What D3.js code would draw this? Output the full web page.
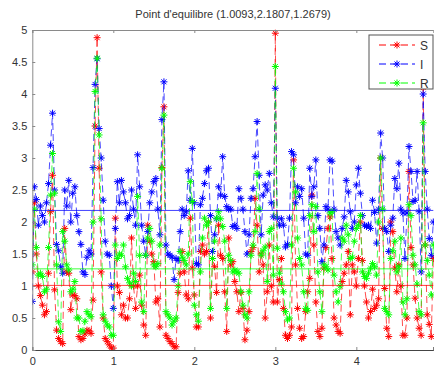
<!DOCTYPE html>
<html><head><meta charset="utf-8">
<script src="https://cdn.jsdelivr.net/npm/d3@7"></script>
<style>body{margin:0;background:#fff}svg{display:block}text{font-family:"Liberation Sans",Arial,sans-serif}</style>
</head><body>
<script>
const title = "Point d'equilibre (1.0093,2.1807,1.2679)";
const tStep = 0.025;
const equilibrium = [1.0093, 2.1807, 1.2679];
const xTicks = [0, 1, 2, 3, 4];
const yTicks = [0, 0.5, 1, 1.5, 2, 2.5, 3, 3.5, 4, 4.5, 5];
const seriesNames = ["S", "I", "R"];
const seriesColors = ["#ff0000", "#0000ff", "#00ff00"];

const S = [1.22,2.3,1.5,1.0,0.85,0.7,0.55,0.6,1.2,2.16,2.73,0.94,0.31,0.18,0.13,0.1,1.9,1.22,1.2,0.63,
0.86,0.85,0.8,0.21,0.16,0.18,0.25,0.31,0.3,0.26,0.78,3.5,4.88,2.84,1.22,0.5,0.18,0.13,0.08,0.03,
0.03,2.06,1.0,0.9,0.55,0.7,0.5,0.5,0.8,1.75,1.0,0.65,1.0,1.17,0.7,0.39,0.23,1.95,1.7,1.5,
1.38,0.75,0.8,0.36,2.85,3.8,0.23,0.18,0.13,0.1,0.05,0.05,0.9,1.2,1.54,1.22,0.86,0.8,2.06,1.28,
0.86,0.36,0.36,1.54,1.64,1.5,1.54,2.0,0.5,1.43,1.3,0.9,1.95,1.48,1.43,0.91,0.29,1.75,1.33,1.38,
1.07,0.91,0.6,0.9,0.65,0.16,0.31,0.6,1.54,1.6,2.37,1.95,1.22,1.5,1.33,0.5,0.91,1.64,1.0,0.75,
4.95,0.75,1.1,1.43,0.65,0.23,0.18,0.23,0.36,2.97,1.33,0.65,0.34,0.18,0.21,0.6,0.91,1.12,2.42,1.64,
0.75,0.29,0.21,0.34,1.28,1.6,1.9,2.08,1.43,0.5,0.39,0.29,0.26,1.07,1.2,1.33,1.54,0.55,1.33,1.22,
1.0,1.43,2.0,1.4,1.0,0.75,0.5,0.6,0.95,0.65,0.7,0.8,3.0,1.9,0.96,0.34,0.21,2.0,1.85,1.28,
0.91,1.33,1.0,0.23,0.23,0.5,2.79,1.6,1.33,0.81,0.5,0.34,0.23,4.1,1.64,0.55,0.4,0.21,1.43];

const I = [0.76,2.55,2.35,1.95,2.25,2.1,2.0,2.3,2.6,3.2,3.7,2.5,1.65,1.55,1.3,1.2,2.5,2.25,2.65,2.0,
2.45,2.55,2.1,1.85,1.65,1.22,1.18,1.45,1.55,1.5,2.85,4.15,4.55,3.46,3.0,2.34,1.7,1.5,1.48,1.0,
0.65,1.9,2.63,2.3,2.65,2.47,2.3,2.05,2.1,2.5,2.2,1.95,3.05,2.55,1.95,1.7,1.48,1.85,2.3,2.47,
2.63,2.68,2.2,1.8,3.6,4.19,1.64,1.5,1.48,1.45,1.1,1.43,1.4,1.85,2.2,2.1,2.16,2.8,2.34,3.15,
2.3,1.35,1.33,2.27,2.37,2.6,2.8,2.84,2.1,1.54,1.8,2.05,2.55,2.42,3.02,2.4,2.24,2.2,2.2,1.93,
1.95,1.9,2.52,2.37,2.2,1.85,1.5,1.8,2.37,2.52,3.02,3.57,2.73,1.8,2.42,2.58,2.5,2.76,2.3,2.08,
4.09,2.06,1.95,2.05,1.95,1.61,1.65,2.06,3.1,3.05,2.3,2.55,2.4,2.52,2.06,1.5,1.48,2.84,2.4,2.55,
2.97,2.1,1.9,1.38,1.64,2.24,2.2,2.97,2.95,2.2,1.85,1.75,1.64,1.9,2.08,2.65,2.47,2.16,1.9,2.0,
2.58,2.84,2.45,2.1,1.95,1.93,1.95,1.9,2.34,2.15,1.67,2.2,3.39,3.0,1.9,1.85,1.54,1.95,2.06,2.68,
2.52,2.92,2.2,2.14,1.43,2.14,3.18,2.79,2.32,2.34,2.79,2.16,1.22,4.0,2.79,2.2,1.74,1.48,2.0];

const R = [1.33,2.2,1.6,1.17,1.2,1.15,0.91,0.95,1.6,2.42,3.07,2.45,1.33,0.44,0.29,1.85,1.7,1.33,1.25,0.91,
0.95,1.07,0.5,0.5,0.29,0.3,0.45,0.6,0.55,0.52,2.0,4.04,4.56,3.36,2.05,0.55,0.45,0.39,0.36,0.23,
0.23,1.64,1.43,1.5,1.48,1.64,1.3,1.12,1.05,1.0,1.2,1.07,2.4,1.48,0.75,0.6,1.48,1.75,1.9,1.7,
1.33,1.3,1.35,1.64,2.84,3.67,0.6,0.55,0.5,0.39,0.45,0.5,1.0,1.54,1.45,1.4,1.33,1.5,2.63,2.32,
0.7,0.55,0.45,1.22,1.75,2.06,1.95,2.0,0.65,1.43,1.7,2.06,2.16,2.05,1.93,1.7,0.65,1.48,1.4,1.22,
1.25,1.22,1.2,0.91,0.7,0.55,0.5,0.91,1.48,1.64,1.85,2.76,2.2,1.48,1.55,1.61,1.07,1.85,1.9,1.17,
4.43,1.59,1.2,1.03,0.91,0.6,0.47,0.5,1.64,2.84,2.47,1.75,1.43,1.33,0.91,0.65,0.62,2.1,2.27,1.85,
2.24,1.22,0.91,0.6,1.33,1.3,1.25,2.14,2.16,1.17,0.91,0.75,1.0,1.75,1.7,1.95,1.8,1.43,1.45,1.7,
1.9,1.95,2.1,1.22,1.15,1.12,1.2,1.28,1.35,1.3,1.17,2.0,3.0,2.2,0.65,0.6,0.55,1.43,1.55,1.7,
1.22,1.3,1.75,0.75,0.55,0.8,2.27,2.1,1.48,1.33,1.03,0.6,0.55,3.55,1.64,1.4,1.17,0.86,1.64];

const W = 434, H = 367;
const m = {left: 32.3, right: 433.3, top: 30, bottom: 350};
const svg = d3.select("body").append("svg").attr("width", W).attr("height", H);
const x = d3.scaleLinear().domain([0, 4.95]).range([m.left, m.right]);
const y = d3.scaleLinear().domain([0, 5]).range([m.bottom, m.top]);

svg.append("defs").append("clipPath").attr("id", "clip")
  .append("rect").attr("x", m.left).attr("y", m.top - 6).attr("width", m.right - m.left + 6).attr("height", m.bottom - m.top + 6);

const star = "M-3.5,0H3.5M0,-3.5V3.5M-2.5,-2.5L2.5,2.5M-2.5,2.5L2.5,-2.5";
const series = [S, I, R];
const g = svg.append("g").attr("clip-path", "url(#clip)");
series.forEach((vals, k) => {
  const pts = vals.map((v, i) => [i * tStep, v]);
  g.append("path").datum(pts)
    .attr("fill", "none").attr("stroke", seriesColors[k]).attr("stroke-width", 1)
    .attr("stroke-dasharray", "7,4").attr("opacity", 0.7)
    .attr("d", d3.line().x(d => x(d[0])).y(d => y(d[1])));
  g.selectAll(null).data(pts).enter().append("path")
    .attr("transform", d => `translate(${x(d[0])},${y(d[1])})`)
    .attr("d", star).attr("fill", "none").attr("stroke", seriesColors[k]).attr("stroke-width", 1);
});
equilibrium.forEach((v, k) => {
  g.append("line").attr("x1", m.left).attr("x2", m.right).attr("y1", y(v)).attr("y2", y(v))
    .attr("stroke", seriesColors[k]).attr("stroke-width", 1).attr("opacity", 0.75);
});

// axes
const axisColor = "#8a8a8a";
const xAxis = d3.axisBottom(x).tickValues(xTicks).tickSize(-3).tickPadding(7).tickFormat(d3.format("d"));
const yAxis = d3.axisLeft(y).tickValues(yTicks).tickSize(-3).tickPadding(5).tickFormat(d => d);
const xa = svg.append("g").attr("transform", `translate(0,${m.bottom})`).call(xAxis);
const ya = svg.append("g").attr("transform", `translate(${m.left},0)`).call(yAxis);
const xt = svg.append("g").attr("transform", `translate(0,${m.top})`).call(d3.axisTop(x).tickValues(xTicks).tickSize(-3).tickFormat(""));
[xa, ya, xt].forEach(a => {
  a.select(".domain").attr("stroke", axisColor);
  a.selectAll(".tick line").attr("stroke", axisColor);
  a.selectAll("text").attr("font-size", 11).attr("fill", "#333");
});
xa.select(".domain").attr("stroke", "#444");

svg.append("text").attr("x", 233).attr("y", 18).attr("text-anchor", "middle")
  .attr("font-size", 11).attr("fill", "#333").text(title);

// legend
const lg = svg.append("g");
lg.append("rect").attr("x", 369).attr("y", 35).attr("width", 64).attr("height", 54)
  .attr("fill", "#fff").attr("stroke", "#555").attr("stroke-width", 1);
seriesNames.forEach((n, k) => {
  const yy = 45 + k * 19;
  lg.append("line").attr("x1", 379).attr("x2", 415).attr("y1", yy).attr("y2", yy)
    .attr("stroke", seriesColors[k]).attr("stroke-dasharray", "7,4");
  lg.append("path").attr("transform", `translate(397,${yy})`).attr("d", star)
    .attr("fill", "none").attr("stroke", seriesColors[k]);
  lg.append("text").attr("x", 420).attr("y", yy + 4.5).attr("font-size", 12).attr("fill", "#333").text(n);
});
</script>
</body></html>
